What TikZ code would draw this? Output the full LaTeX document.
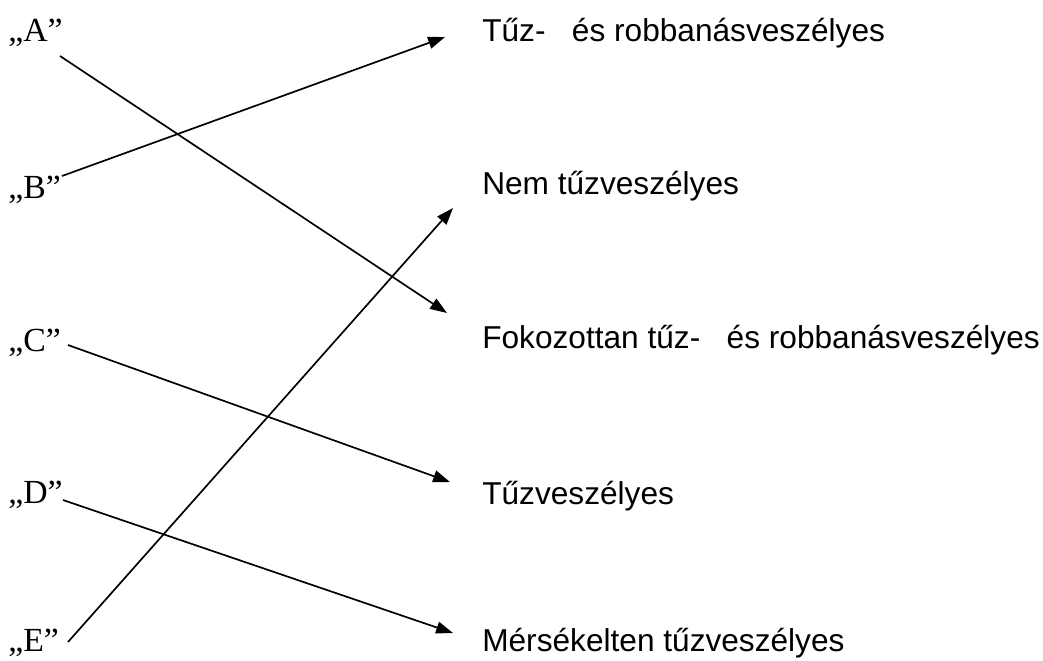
\documentclass[tikz,border=0pt]{standalone}
\usepackage{fontspec}
\setmainfont{Liberation Serif}
\newfontfamily\tipusfont{Liberation Sans}
\usetikzlibrary{arrows.meta}

\tikzset{
  betu/.style={anchor=base west,inner sep=0pt,font=\fontsize{24}{28}\selectfont},
  tipus/.style={anchor=base west,inner sep=0pt,font=\tipusfont\fontsize{22.5}{27}\selectfont},
  nyil/.style={->,line width=1.2pt}
}

\begin{document}
\begin{tikzpicture}[x=0.025cm,y=-0.025cm,line join=round,>={Triangle[length=12pt,width=8.5pt]}]
	\useasboundingbox (0,0) rectangle (1043,660);
	% osztalyok
	\node[betu] (A) at (8,41) {„A”};
	\node[betu] (B) at (8,198) {„B”};
	\node[betu] (C) at (8,351) {„C”};
	\node[betu] (D) at (8,503) {„D”};
	\node[betu] (E) at (8,651) {„E”};
	% megnevezesek
	\node[tipus] (tuz) at (482,41) {Tűz-~~ és robbanásveszélyes};
	\node[tipus] (nem) at (482,194) {Nem tűzveszélyes};
	\node[tipus] (fok) at (482,348) {Fokozottan tűz-~~ és robbanásveszélyes};
	\node[tipus] (tv) at (482,504) {Tűzveszélyes};
	\node[tipus] (mers) at (482,651) {Mérsékelten tűzveszélyes};
	% nyilak vegpontjai
	\coordinate (a0) at (60,56);   \coordinate (a1) at (447,313);
	\coordinate (b0) at (62,176);  \coordinate (b1) at (445,37);
	\coordinate (c0) at (68,345);  \coordinate (c1) at (450,482);
	\coordinate (d0) at (63,500);  \coordinate (d1) at (453,633);
	\coordinate (e0) at (68,642);  \coordinate (e1) at (453,208);
	\foreach \i in {a,b,c,d,e}
	\draw[nyil] (\i0)--(\i1);
\end{tikzpicture}
\end{document}
